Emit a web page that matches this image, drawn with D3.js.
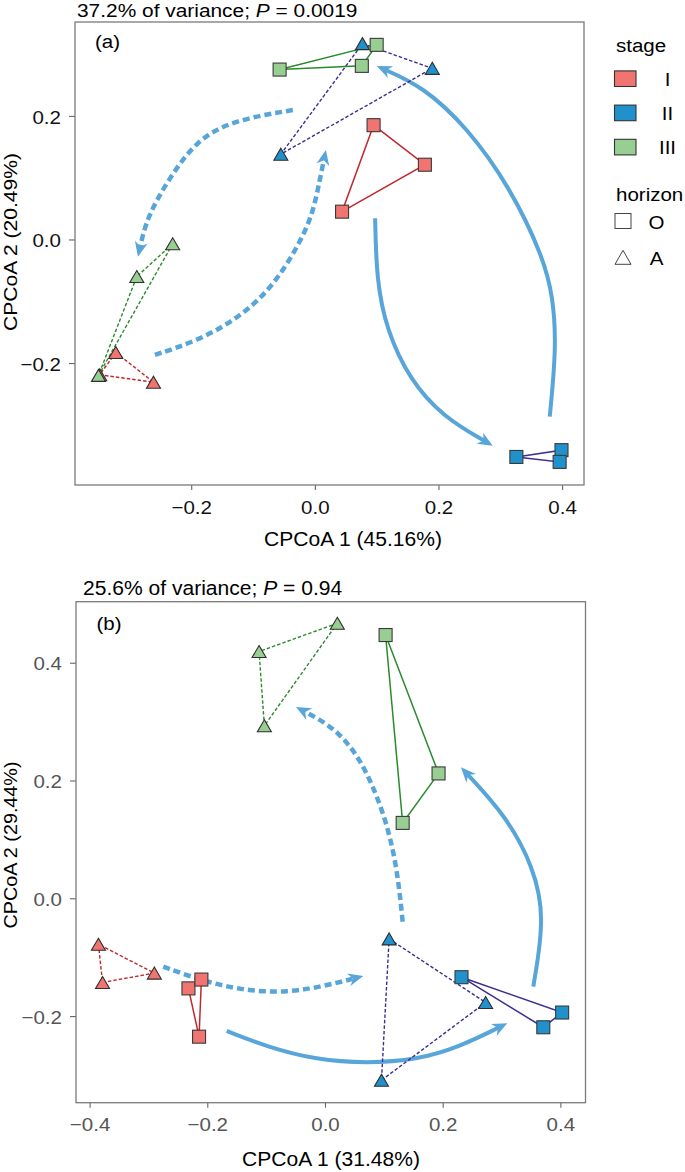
<!DOCTYPE html>
<html><head><meta charset="utf-8">
<script src="https://cdn.jsdelivr.net/npm/d3@7"></script>
<style>body{margin:0;background:#fff} text{font-family:"Liberation Sans",Arial,sans-serif}</style>
</head><body><svg id="c" width="685" height="1172"></svg>
<script>
// ---------- data ----------
const stages = ["I", "II", "III"];
const horizons = ["O", "A"];

// panel (a) sample coordinates [CPCoA1, CPCoA2]
const a_I_O   = [[0.095, 0.185], [0.178, 0.121], [0.044, 0.045]];
const a_I_A   = [[-0.322, -0.183], [-0.261, -0.231], [-0.348, -0.219]];
const a_II_O  = [[0.326, -0.352], [0.399, -0.341], [0.396, -0.360]];
const a_II_A  = [[0.077, 0.317], [0.190, 0.277], [-0.055, 0.138]];
const a_III_O = [[-0.057, 0.275], [0.076, 0.281], [0.100, 0.315]];
const a_III_A = [[-0.230, -0.007], [-0.288, -0.060], [-0.350, -0.220]];

// panel (b) sample coordinates
const b_I_O   = [[-0.232, -0.153], [-0.210, -0.138], [-0.214, -0.235]];
const b_I_A   = [[-0.385, -0.078], [-0.378, -0.143], [-0.290, -0.127]];
const b_II_O  = [[0.232, -0.134], [0.403, -0.194], [0.371, -0.219]];
const b_II_A  = [[0.109, -0.069], [0.273, -0.177], [0.096, -0.309]];
const b_III_O = [[0.103, 0.447], [0.193, 0.212], [0.132, 0.128]];
const b_III_A = [[0.021, 0.467], [-0.112, 0.419], [-0.103, 0.293]];

// tick values
const aXTicks = [-0.2, 0.0, 0.2, 0.4];
const aYTicks = [-0.2, 0.0, 0.2];
const bXTicks = [-0.4, -0.2, 0.0, 0.2, 0.4];
const bYTicks = [-0.2, 0.0, 0.2, 0.4];

// annotation arrows (data units), last point = tip
const aArrowsDashed = [
  [[-0.0356, 0.2095], [-0.1326, 0.193], [-0.1908, 0.161], [-0.2344, 0.101], [-0.2716, 0.0364], [-0.2862, -0.028]],
  [[-0.2587, -0.1869], [-0.186, -0.1626], [-0.121, -0.1254], [-0.068, -0.0769], [-0.024, -0.0057], [-0.003, 0.0429], [0.008, 0.0963], [0.0178, 0.1448]]
];
const aArrowsSolid = [
  [[0.0975, 0.0343], [0.0998, -0.0655], [0.1159, -0.1464], [0.1536, -0.2273], [0.207, -0.2867], [0.2878, -0.334]],
  [[0.380, -0.2867], [0.3908, -0.1735], [0.3853, -0.0926], [0.3692, -0.0278], [0.3153, 0.0854], [0.2453, 0.1825], [0.1751, 0.2472], [0.1002, 0.2807]]
];
const bArrowsDashed = [
  [[0.132, -0.0397], [0.1218, 0.0594], [0.099, 0.150], [0.0595, 0.2404], [0.0141, 0.2913], [-0.0493, 0.3248]],
  [[-0.2748, -0.1161], [-0.2124, -0.1387], [-0.1444, -0.1557], [-0.0651, -0.1613], [0.0141, -0.1455], [0.0651, -0.1319]]
];
const bArrowsSolid = [
  [[0.354, -0.150], [0.3738, -0.0312], [0.354, 0.0537], [0.3087, 0.1385], [0.2311, 0.2224]],
  [[-0.167, -0.2253], [-0.0991, -0.252], [-0.0141, -0.2745], [0.0709, -0.2801], [0.1558, -0.2745], [0.2294, -0.252], [0.3098, -0.2122]]
];

// ---------- styles ----------
const fillCol = {I: "#F07470", II: "#2191CB", III: "#98CE92"};
const lineCol = {I: "#C1272D", II: "#3B2F8F", III: "#2A8A2E"};
const arrowCol = "#58A6D9";
const SX = 1.08;

const svg = d3.select("#c");

function txt(g, x, y, s, o = {}) {
  const t = g.append("text")
    .attr("transform", `translate(${x},${y}) scale(${o.sx || SX},1)`)
    .attr("font-size", o.size || 19)
    .attr("fill", o.fill || "#000")
    .attr("text-anchor", o.anchor || "start");
  t.text(s);
  return t;
}

function triPath(cx, cy, w, h) {
  return `M${cx},${cy - h / 2}L${cx + w / 2},${cy + h / 2}L${cx - w / 2},${cy + h / 2}Z`;
}

function drawArrow(g, pts, x, y, dashed) {
  const P = pts.map(p => [x(p[0]), y(p[1])]);
  const line = d3.line().curve(d3.curveBasis);
  const tmp = g.append("path").attr("d", line(P)).attr("fill", "none");
  const L = tmp.node().getTotalLength();
  const tip = P[P.length - 1];
  const q = tmp.node().getPointAtLength(L - 12);
  const q2 = tmp.node().getPointAtLength(L - 8);
  tmp.remove();
  const ang = Math.atan2(tip[1] - q.y, tip[0] - q.x) * 180 / Math.PI;
  const P2 = P.slice(0, -1).concat([[q2.x, q2.y]]);
  g.append("path").attr("d", line(P2)).attr("fill", "none")
    .attr("stroke", arrowCol).attr("stroke-width", dashed ? 4.5 : 4)
    .attr("stroke-dasharray", dashed ? "7,4" : null);
  g.append("path").attr("d", "M0,0L-15,-6.5L-10.5,0L-15,6.5Z")
    .attr("transform", `translate(${tip[0]},${tip[1]}) rotate(${ang})`)
    .attr("fill", arrowCol);
}

function fmt(v) {
  const s = Math.abs(v).toFixed(1);
  return v < -1e-9 ? "\u2212" + s : s;
}

function panel(cfg) {
  const g = svg.append("g");
  const x = d3.scaleLinear().domain(cfg.xd).range([cfg.box[0], cfg.box[2]]);
  const y = d3.scaleLinear().domain(cfg.yd).range([cfg.box[3], cfg.box[1]]);

  // axes
  const ax = g.append("g").attr("transform", `translate(0,${cfg.box[3]})`)
    .call(d3.axisBottom(x).tickValues(cfg.xt).tickFormat(fmt).tickSize(5).tickPadding(cfg.xpad).tickSizeOuter(0));
  const ay = g.append("g").attr("transform", `translate(${cfg.box[0]},0)`)
    .call(d3.axisLeft(y).tickValues(cfg.yt).tickFormat(fmt).tickSize(6).tickPadding(7).tickSizeOuter(0));
  [ax, ay].forEach(a => {
    a.select(".domain").remove();
    a.selectAll(".tick line").attr("stroke", "#666").attr("stroke-width", 1.1);
    a.selectAll(".tick text").attr("font-size", 19).attr("fill", cfg.tickFill)
      .attr("font-family", '"Liberation Sans",Arial,sans-serif')
      .attr("transform", `scale(${SX},1)`);
  });
  ay.selectAll(".tick text").attr("dy", "0.38em");

  // border
  g.append("rect").attr("x", cfg.box[0]).attr("y", cfg.box[1])
    .attr("width", cfg.box[2] - cfg.box[0]).attr("height", cfg.box[3] - cfg.box[1])
    .attr("fill", "none").attr("stroke", "#7a7a7a").attr("stroke-width", 1.3);

  // arrows
  cfg.dashed.forEach(p => drawArrow(g, p, x, y, true));
  cfg.solid.forEach(p => drawArrow(g, p, x, y, false));

  // hulls
  const hull = d3.line().curve(d3.curveLinearClosed);
  cfg.groups.forEach(gr => {
    g.append("path").attr("d", hull(gr.pts.map(p => [x(p[0]), y(p[1])])))
      .attr("fill", "none").attr("stroke", lineCol[gr.stage])
      .attr("stroke-width", gr.hor === "O" ? 1.5 : 1.4)
      .attr("stroke-dasharray", gr.hor === "A" ? "3.5,2" : null);
  });
  // points
  cfg.groups.forEach(gr => {
    gr.pts.forEach(p => {
      const cx = x(p[0]), cy = y(p[1]);
      if (gr.hor === "O") {
        g.append("rect").attr("x", cx - 6.5).attr("y", cy - 6.5).attr("width", 13).attr("height", 13)
          .attr("fill", fillCol[gr.stage]).attr("stroke", "#3a3a3a").attr("stroke-width", 1.1);
      } else {
        g.append("path").attr("d", triPath(cx, cy, 14, 12))
          .attr("fill", fillCol[gr.stage]).attr("stroke", "#2e2e2e").attr("stroke-width", 1.1)
          .attr("stroke-linejoin", "miter");
      }
    });
  });

  // titles
  const t = txt(g, cfg.title[0], cfg.title[1], "", {size: cfg.titleSize, sx: cfg.titleSx});
  t.append("tspan").text(cfg.titleA);
  t.append("tspan").attr("font-style", "italic").text("P");
  t.append("tspan").text(cfg.titleB);
  txt(g, cfg.tag[0], cfg.tag[1], cfg.tagText, {size: 19});
  txt(g, cfg.xlab[0], cfg.xlab[1], cfg.xlabText, {size: 19.5, anchor: "middle"});
  g.append("text").attr("transform", `translate(${cfg.ylab[0]},${cfg.ylab[1]}) rotate(-90) scale(${cfg.ylabSx},1)`)
    .attr("font-size", 18.5).attr("text-anchor", "middle").text(cfg.ylabText);
}

panel({
  box: [75, 22, 584, 485], xd: [-0.388, 0.4354], yd: [-0.3974, 0.352],
  xt: aXTicks, yt: aYTicks, xpad: 11, tickFill: "#111",
  dashed: aArrowsDashed, solid: aArrowsSolid,
  groups: [
    {stage: "I", hor: "O", pts: a_I_O}, {stage: "I", hor: "A", pts: a_I_A},
    {stage: "II", hor: "O", pts: a_II_O}, {stage: "II", hor: "A", pts: a_II_A},
    {stage: "III", hor: "O", pts: a_III_O}, {stage: "III", hor: "A", pts: a_III_A}
  ],
  title: [77, 17], titleSize: 18.5, titleSx: 1.13, titleA: "37.2% of variance; ", titleB: " = 0.0019",
  tag: [95, 48], tagText: "(a)",
  xlab: [353, 546], xlabText: "CPCoA 1 (45.16%)",
  ylab: [17, 242], ylabSx: 1.14, ylabText: "CPCoA 2 (20.49%)"
});

panel({
  box: [76, 601.7, 585.5, 1102.7], xd: [-0.4231, 0.4427], yd: [-0.3471, 0.5036],
  xt: bXTicks, yt: bYTicks, xpad: 10, tickFill: "#555",
  dashed: bArrowsDashed, solid: bArrowsSolid,
  groups: [
    {stage: "I", hor: "O", pts: b_I_O}, {stage: "I", hor: "A", pts: b_I_A},
    {stage: "II", hor: "O", pts: b_II_O}, {stage: "II", hor: "A", pts: b_II_A},
    {stage: "III", hor: "O", pts: b_III_O}, {stage: "III", hor: "A", pts: b_III_A}
  ],
  title: [83, 595], titleSize: 19.5, titleSx: 1.08, titleA: "25.6% of variance; ", titleB: " = 0.94",
  tag: [96.5, 630], tagText: "(b)",
  xlab: [331, 1166], xlabText: "CPCoA 1 (31.48%)",
  ylab: [17, 845], ylabSx: 1.07, ylabText: "CPCoA 2 (29.44%)"
});

// ---------- legend ----------
const lg = svg.append("g");
txt(lg, 616, 52, "stage", {size: 19});
stages.forEach((s, i) => {
  const cy = 78.7 + i * 34.2;
  lg.append("rect").attr("x", 614.5).attr("y", cy - 7.8).attr("width", 21.5).attr("height", 15.6)
    .attr("fill", fillCol[s]).attr("stroke", "#333").attr("stroke-width", 1.1);
  txt(lg, 667.5, cy + 7, s, {size: 19, anchor: "middle"});
});
txt(lg, 616, 201, "horizon", {size: 19});
horizons.forEach((h, i) => {
  const cy = 221 + i * 36.3;
  if (h === "O") {
    lg.append("rect").attr("x", 615).attr("y", cy - 7.5).attr("width", 16).attr("height", 15)
      .attr("fill", "none").attr("stroke", "#444").attr("stroke-width", 1);
  } else {
    lg.append("path").attr("d", triPath(623, cy, 16, 14)).attr("fill", "none")
      .attr("stroke", "#444").attr("stroke-width", 1);
  }
  txt(lg, 656.5, cy + 7.5, h, {size: 19, anchor: "middle"});
});
</script></body></html>
